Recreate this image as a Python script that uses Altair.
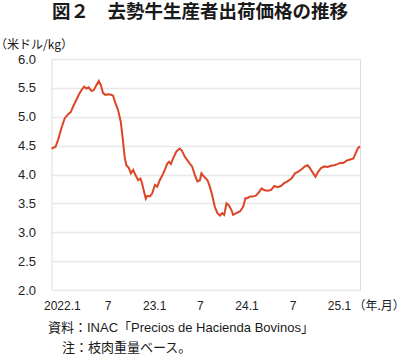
import altair as alt
import pandas as pd

TITLE = "図２　去勢牛生産者出荷価格の推移"
Y_UNIT = "（米ドル/kg）"
X_UNIT = "（年.月）"
NOTE1 = "資料：INAC「Precios de Hacienda Bovinos」"
NOTE2 = "注：枝肉重量ベース。"

dates = [
    "2021-11-21", "2021-12-07", "2021-12-17", "2021-12-30", "2022-01-12", "2022-01-25",
    "2022-02-05", "2022-02-14", "2022-02-27", "2022-03-09", "2022-03-19", "2022-03-30",
    "2022-04-08", "2022-04-17", "2022-04-28", "2022-05-07", "2022-05-18", "2022-05-27",
    "2022-06-04", "2022-06-13", "2022-06-22", "2022-07-03", "2022-07-16", "2022-07-23",
    "2022-08-01", "2022-08-11", "2022-08-22", "2022-08-31", "2022-09-07", "2022-09-13",
    "2022-09-23", "2022-10-01", "2022-10-10", "2022-10-19", "2022-10-30", "2022-11-08",
    "2022-11-14", "2022-11-22", "2022-11-29", "2022-12-05", "2022-12-15", "2022-12-24",
    "2023-01-04", "2023-01-13", "2023-01-23", "2023-02-03", "2023-02-12", "2023-02-22",
    "2023-03-01", "2023-03-08", "2023-03-17", "2023-03-30", "2023-04-12", "2023-04-21",
    "2023-05-02", "2023-05-12", "2023-05-22", "2023-05-31", "2023-06-11", "2023-06-21",
    "2023-07-01", "2023-07-07", "2023-07-18", "2023-07-31", "2023-08-09", "2023-08-18",
    "2023-08-29", "2023-09-08", "2023-09-18", "2023-09-27", "2023-10-05", "2023-10-14",
    "2023-10-23", "2023-11-03", "2023-11-09", "2023-11-22", "2023-12-06", "2023-12-19",
    "2023-12-28", "2024-01-05", "2024-01-15", "2024-01-24", "2024-02-06", "2024-02-19",
    "2024-03-01", "2024-03-11", "2024-03-24", "2024-04-07", "2024-04-20", "2024-05-03",
    "2024-05-16", "2024-05-29", "2024-06-11", "2024-06-27", "2024-07-11", "2024-07-24",
    "2024-08-06", "2024-08-19", "2024-08-30", "2024-09-08", "2024-09-21", "2024-09-30",
    "2024-10-11", "2024-10-22", "2024-11-04", "2024-11-17", "2024-11-30", "2024-12-13",
    "2024-12-26", "2025-01-05", "2025-01-18", "2025-01-31", "2025-02-14", "2025-02-27",
    "2025-03-08", "2025-03-16", "2025-03-25",
]
prices = [
    4.45, 4.48, 4.60, 4.80, 4.97, 5.04,
    5.08, 5.17, 5.29, 5.38, 5.46, 5.52,
    5.49, 5.51, 5.45, 5.46, 5.55, 5.62,
    5.55, 5.41, 5.38, 5.39, 5.38, 5.36,
    5.23, 5.12, 4.91, 4.57, 4.28, 4.16,
    4.11, 4.02, 4.08, 3.99, 3.90, 3.93,
    3.85, 3.70, 3.58, 3.63, 3.62, 3.67,
    3.82, 3.79, 3.90, 3.99, 4.08, 4.19,
    4.22, 4.18, 4.28, 4.40, 4.45, 4.41,
    4.31, 4.25, 4.19, 4.14, 3.99, 3.88,
    3.90, 4.02, 3.96, 3.90, 3.79, 3.65,
    3.44, 3.33, 3.29, 3.33, 3.30, 3.50,
    3.47, 3.38, 3.30, 3.33, 3.36, 3.44,
    3.59, 3.59, 3.62, 3.62, 3.63, 3.69,
    3.76, 3.73, 3.72, 3.73, 3.80, 3.78,
    3.80, 3.85, 3.88, 3.93, 4.02, 4.05,
    4.09, 4.14, 4.16, 4.11, 4.02, 3.96,
    4.05, 4.11, 4.14, 4.13, 4.15, 4.16,
    4.18, 4.20, 4.20, 4.24, 4.26, 4.28,
    4.37, 4.45, 4.49,
]

tick_years = [2022, 2022, 2023, 2023, 2024, 2024, 2025]
tick_months = [1, 7, 1, 7, 1, 7, 1]
tick_labels = ["2022.1", "7", "23.1", "7", "24.1", "7", "25.1"]
y_ticks = [2.0, 2.5, 3.0, 3.5, 4.0, 4.5, 5.0, 5.5, 6.0]

df = pd.DataFrame({"date": dates, "price": prices})

label_expr = ""
for yy, mm, lab in zip(tick_years, tick_months, tick_labels):
    label_expr += f"timeFormat(datum.value, '%Y-%m') == '{yy}-{mm:02d}' ? '{lab}' : "
label_expr += "''"

LATIN = "Liberation Sans, Noto Sans CJK JP"
CJK = "Noto Sans CJK JP"
PLOT_H = 231

line = alt.Chart(df).mark_line(color="#dd4527", strokeWidth=2).encode(
    x=alt.X(
        "date:T",
        scale=alt.Scale(nice=False, padding=0),
        axis=alt.Axis(
            values=[alt.DateTime(year=yy, month=mm, date=1) for yy, mm in zip(tick_years, tick_months)],
            labelExpr=label_expr,
            title=None,
            grid=False,
            domain=False,
            ticks=False,
            labelFont=LATIN,
            labelFontSize=12,
            labelColor="#222222",
            labelPadding=10,
            labelFlush=False,
            labelOverlap=False,
        ),
    ),
    y=alt.Y(
        "price:Q",
        scale=alt.Scale(domain=[2, 6], nice=False, zero=False),
        axis=alt.Axis(
            values=y_ticks,
            format=".1f",
            title=None,
            grid=True,
            gridColor="#e8e8e8",
            gridWidth=1.5,
            domain=False,
            ticks=False,
            labelFont=LATIN,
            labelFontSize=13,
            labelColor="#222222",
            labelPadding=16,
        ),
    ),
)

def text_mark(txt, x, y, size, weight="normal", align="left", font=CJK):
    return alt.Chart(alt.Data(values=[{"t": txt}])).mark_text(
        align=align, baseline="middle", fontSize=size, fontWeight=weight,
        font=font, color="#1a1a1a",
    ).encode(text="t:N", x=alt.value(x), y=alt.value(y))

title_t = text_mark(TITLE, 148.5, -47, 18.5, weight="bold", align="center")
yunit_t = text_mark(Y_UNIT, -56.5, -14, 12, font=CJK)
xunit_t = text_mark(X_UNIT, 302, PLOT_H + 16, 12, font=CJK)
note1_t = text_mark(NOTE1, -3.5, PLOT_H + 37.5, 13, font=LATIN)
note2_t = text_mark(NOTE2, 10.5, PLOT_H + 57.5, 13, font=LATIN)

chart = alt.layer(line, title_t, yunit_t, xunit_t, note1_t, note2_t).properties(
    width=308.5,
    height=PLOT_H,
    autosize=alt.AutoSizeParams(type="none"),
    padding={"left": 51.5, "top": 59, "right": 40, "bottom": 66},
).configure_view(stroke=None).configure(background="white")

chart.save("out.html", embed_options={"renderer": "svg", "actions": False})
